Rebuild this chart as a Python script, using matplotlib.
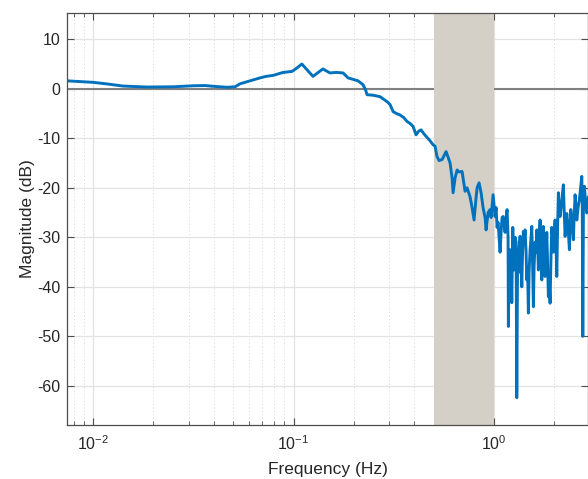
import numpy as np
import matplotlib
matplotlib.use("Agg")
import matplotlib.pyplot as plt
from matplotlib.ticker import LogLocator

plt.rcParams['font.family'] = ['Liberation Sans', 'DejaVu Sans']
plt.rcParams['mathtext.fontset'] = 'custom'
plt.rcParams['mathtext.rm'] = 'Liberation Sans'
plt.rcParams['mathtext.it'] = 'Liberation Sans'
plt.rcParams['axes.unicode_minus'] = False

# Low/mid frequency part: frequency (Hz) and magnitude (dB)
freq_lo = [0.00742, 0.00861, 0.0100, 0.01188, 0.0141, 0.0186, 0.0251, 0.0316, 0.0362,
           0.0397, 0.0466, 0.0511, 0.0541, 0.0607, 0.0681, 0.0729, 0.0791, 0.0887,
           0.0983, 0.104, 0.110, 0.125, 0.140, 0.152, 0.163, 0.1766, 0.187, 0.2098,
           0.2222, 0.2290, 0.2326, 0.249, 0.270, 0.2926, 0.3030, 0.3135, 0.3260, 0.3398,
           0.3540, 0.3682, 0.3810, 0.3945, 0.4083, 0.4200, 0.4324, 0.4450, 0.4579,
           0.4794, 0.4962, 0.5078, 0.5195, 0.5316, 0.5504, 0.5631, 0.5763, 0.5897,
           0.6034, 0.6174, 0.6246, 0.6391, 0.654, 0.6691, 0.6925, 0.7005, 0.7167,
           0.7334, 0.7589, 0.7768, 0.7948, 0.8133, 0.8229, 0.8418, 0.8614, 0.8813,
           0.9018, 0.9123, 0.9334, 0.955, 0.966, 0.9886]
mag_lo = [1.6, 1.45, 1.3, 0.95, 0.55, 0.35, 0.4, 0.6, 0.65,
          0.5, 0.3, 0.4, 1.0, 1.6, 2.2, 2.5, 2.7, 3.3,
          3.5, 4.2, 5.0, 2.5, 4.0, 3.2, 3.3, 3.2, 2.2, 1.6,
          0.8, -0.3, -1.2, -1.3, -1.6, -2.6, -3.2, -4.6, -5.0, -5.3,
          -5.8, -6.6, -7.0, -7.6, -9.3, -8.6, -8.3, -9.0, -9.6,
          -10.5, -11.3, -11.6, -13.7, -14.5, -14.3, -13.5, -12.7, -13.8,
          -15.0, -18.0, -21.0, -18.0, -16.4, -16.8, -16.7, -18.0, -20.7,
          -20.0, -21.8, -24.0, -26.5, -22.0, -20.0, -19.0, -21.0, -24.0,
          -26.0, -28.5, -25.0, -24.4, -26.0, -21.4]

# High frequency (noisy) part: log10 of frequency (Hz) and magnitude (dB)
logf_hi = [0.0000, 0.0050, 0.0100, 0.0150, 0.0200, 0.0249, 0.0299, 0.0349, 0.0399,
           0.0449, 0.0499, 0.0549, 0.0599, 0.0648, 0.0698, 0.0713, 0.0748, 0.0798,
           0.0848, 0.0883, 0.0933, 0.0963, 0.0998, 0.1047, 0.1097, 0.1132, 0.1172,
           0.1212, 0.1247, 0.1297, 0.1347, 0.1382, 0.1421, 0.1461, 0.1496, 0.1546,
           0.1596, 0.1631, 0.1671, 0.1711, 0.1746, 0.1796, 0.1845, 0.1880, 0.1920,
           0.1960, 0.1995, 0.2045, 0.2095, 0.2130, 0.2170, 0.2209, 0.2244, 0.2294,
           0.2344, 0.2379, 0.2419, 0.2459, 0.2494, 0.2544, 0.2594, 0.2628, 0.2668,
           0.2708, 0.2743, 0.2793, 0.2843, 0.2878, 0.2918, 0.2958, 0.2993, 0.3042,
           0.3092, 0.3127, 0.3167, 0.3207, 0.3242, 0.3292, 0.3342, 0.3377, 0.3416,
           0.3456, 0.3491, 0.3541, 0.3591, 0.3626, 0.3691, 0.3756, 0.3791, 0.3825,
           0.3890, 0.3955, 0.3990, 0.4040, 0.4090, 0.4125, 0.4190, 0.4254, 0.4314,
           0.4374, 0.4399, 0.4424, 0.4454, 0.4504, 0.4564, 0.4623, 0.4703, 0.4788]
mag_hi = [-23.5, -25.8, -24.0, -28.0, -27.0, -30.0, -33.0, -29.0, -26.0,
          -25.8, -27.5, -29.0, -26.0, -24.4, -30.0, -48.0, -36.0, -32.5,
          -35.0, -43.2, -28.0, -33.0, -36.6, -30.0, -31.0, -62.4, -34.0,
          -37.2, -32.0, -29.8, -34.0, -40.0, -33.0, -28.8, -31.0, -28.5,
          -33.0, -38.6, -36.0, -45.3, -37.0, -32.5, -30.0, -27.8, -35.0,
          -44.0, -36.0, -31.0, -33.0, -28.5, -31.0, -36.6, -30.0, -26.5,
          -33.0, -38.6, -31.0, -27.8, -32.0, -37.9, -33.0, -29.0, -35.0,
          -42.0, -38.0, -43.3, -33.0, -28.0, -30.0, -33.0, -29.0, -26.5,
          -31.0, -37.9, -28.0, -21.0, -24.0, -25.8, -24.0, -22.4, -21.0,
          -19.4, -24.0, -29.8, -27.0, -25.2, -28.0, -32.5, -28.0, -24.4,
          -27.0, -30.5, -26.0, -21.4, -24.0, -26.5, -24.0, -22.4, -20.0,
          -17.7, -24.0, -50.0, -25.0, -19.7, -23.0, -25.1, -21.8, -23.8]

band = (0.5, 1.0)
xlim = (0.00742, 2.94)
ylim = (-67.9, 15.3)
yticks = [-60, -50, -40, -30, -20, -10, 0, 10]

freq = np.concatenate([np.array(freq_lo), 10.0 ** np.array(logf_hi)])
mag_db = np.concatenate([np.array(mag_lo), np.array(mag_hi)])

text_c = '#262626'
fig = plt.figure(figsize=(5.88, 4.79), dpi=100)
ax = fig.add_axes([67/588, 1-425/479, 1-67/588, (425-13)/479])

ax.set_xscale('log')
ax.set_xlim(*xlim)
ax.set_ylim(*ylim)
ax.set_yticks(yticks)
ax.xaxis.set_major_locator(LogLocator(base=10, numticks=10))
ax.xaxis.set_minor_locator(LogLocator(base=10, subs=np.arange(2, 10), numticks=20))

ax.grid(True, which='major', color='#e3e3e3', linewidth=0.9, zorder=0)
ax.grid(True, which='minor', axis='x', color='#d6d6d6', linewidth=0.7,
        linestyle=(0, (1, 2.5)), zorder=0)
ax.set_axisbelow(True)

ax.axhline(0, color='#808080', linewidth=1.5, zorder=1)
ax.axvspan(band[0], band[1], color='#D4D0C8', linewidth=0, zorder=2)
ax.plot(freq, mag_db, color='#0072BD', linewidth=2.1, zorder=3)

for s in ax.spines.values():
    s.set_color('#4d4d4d')
    s.set_linewidth(0.9)
    s.set_zorder(4)

ax.tick_params(which='both', direction='in', top=True, right=True,
               colors='#4d4d4d', labelcolor=text_c, labelsize=11.5)
ax.tick_params(which='major', length=5, width=0.8)
ax.tick_params(which='minor', length=3, width=0.6)
ax.tick_params(axis='y', pad=5)
ax.tick_params(axis='x', pad=7)

ax.set_xlabel('Frequency (Hz)', fontsize=12.5, color=text_c, labelpad=6)
ax.set_ylabel('Magnitude (dB)', fontsize=12.5, color=text_c, labelpad=1.5)

fig.savefig('out.png', dpi=100)
